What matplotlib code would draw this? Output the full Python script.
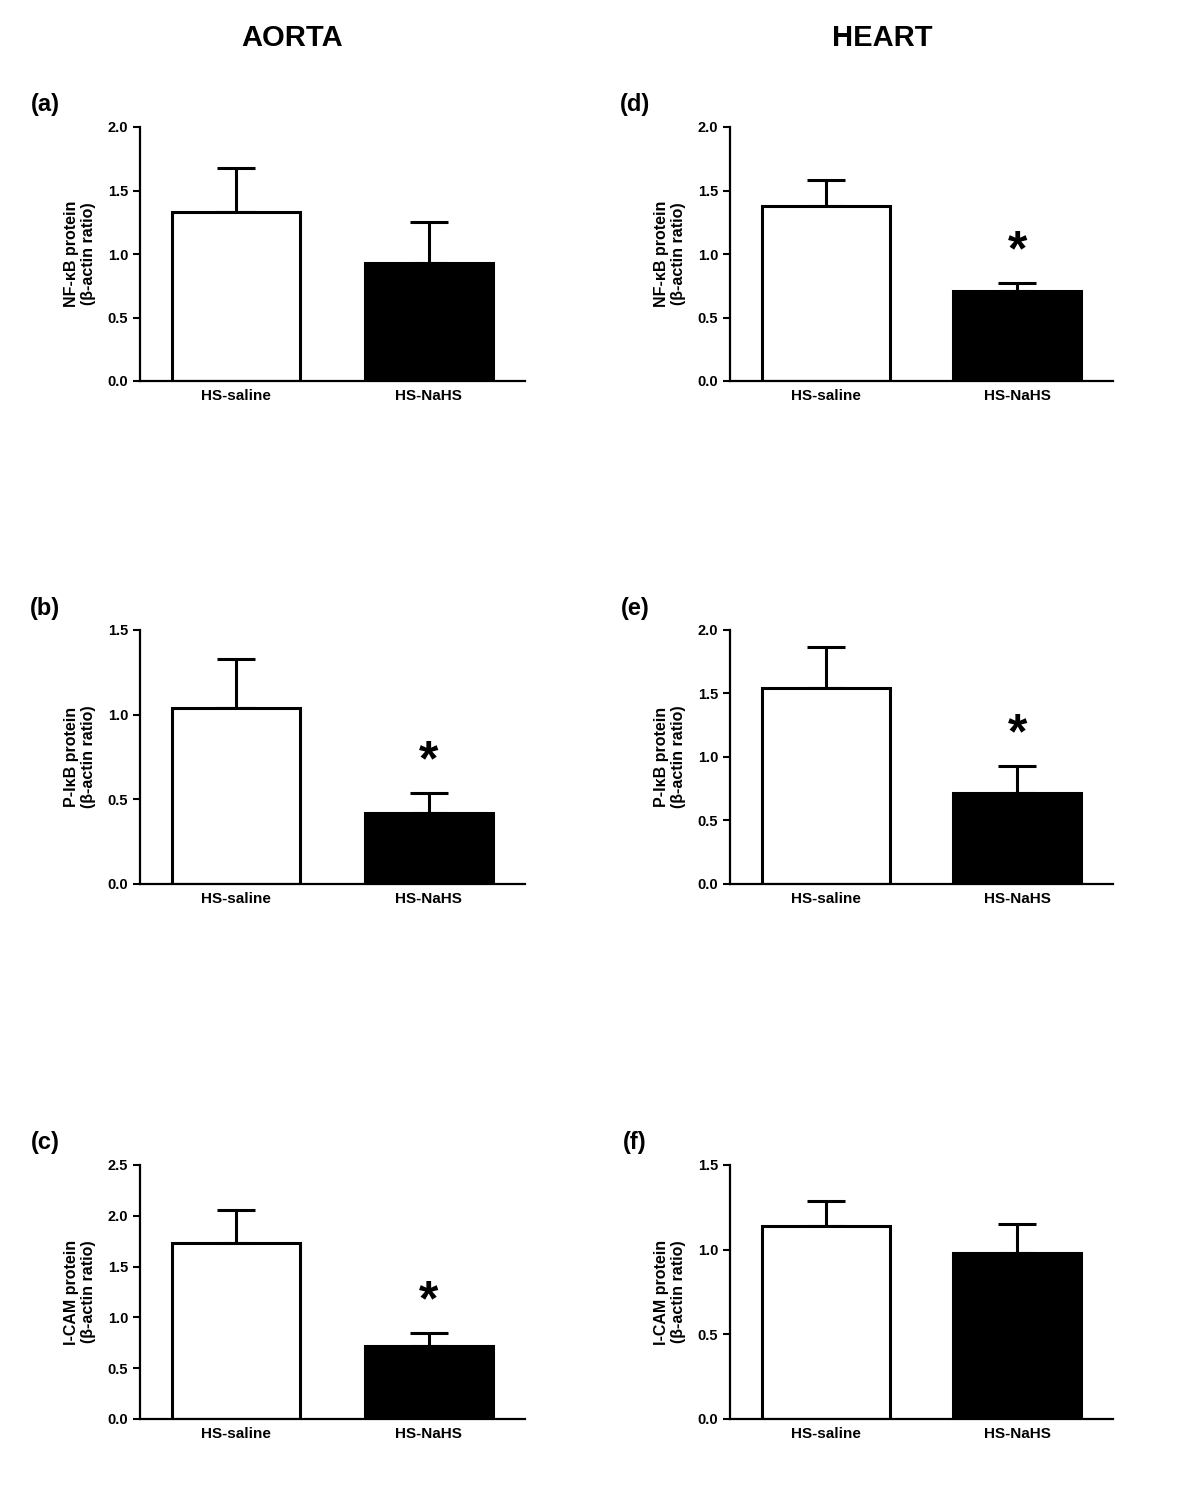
import matplotlib
matplotlib.use("Agg")
import matplotlib.pyplot as plt

W, H = 1200, 1492
groups = ["HS-saline", "HS-NaHS"]

# (letter, ylabel protein name, means, upper error tops, ymax, yticks, significant)
panels = {
    "a": ("NF-\u03baB", [1.33, 0.93], [1.68, 1.25], 2.0, [0, 0.5, 1.0, 1.5, 2.0], False),
    "b": ("P-I\u03baB", [1.04, 0.42], [1.33, 0.54], 1.5, [0, 0.5, 1.0, 1.5], True),
    "c": ("I-CAM", [1.73, 0.72], [2.06, 0.85], 2.5, [0, 0.5, 1.0, 1.5, 2.0, 2.5], True),
    "d": ("NF-\u03baB", [1.38, 0.71], [1.58, 0.77], 2.0, [0, 0.5, 1.0, 1.5, 2.0], True),
    "e": ("P-I\u03baB", [1.54, 0.72], [1.87, 0.93], 2.0, [0, 0.5, 1.0, 1.5, 2.0], True),
    "f": ("I-CAM", [1.14, 0.98], [1.29, 1.15], 1.5, [0, 0.5, 1.0, 1.5], False),
}

# pixel boxes: left, top, right, bottom
boxes = {
    "a": (140, 127, 525, 381), "d": (730, 127, 1113, 381),
    "b": (140, 630, 525, 884), "e": (730, 630, 1113, 884),
    "c": (140, 1165, 525, 1419), "f": (730, 1165, 1113, 1419),
}

plt.rcParams["font.family"] = ["Liberation Sans", "DejaVu Sans"]
fig = plt.figure(figsize=(W / 100, H / 100), dpi=100)

fig.text(292 / W, 1 - 38 / H, "AORTA", ha="center", va="center", fontsize=21, fontweight="bold")
fig.text(882 / W, 1 - 38 / H, "HEART", ha="center", va="center", fontsize=21, fontweight="bold")

for key, (name, means, tops, ymax, yticks, sig) in panels.items():
    l, t, r, b = boxes[key]
    ax = fig.add_axes([l / W, 1 - b / H, (r - l) / W, (b - t) / H])
    xs = [0.75, 2.25]
    errs = [tp - m for tp, m in zip(tops, means)]
    ax.bar(xs, means, width=1.0, color=["white", "black"], edgecolor="black", linewidth=2.2, zorder=2)
    ax.errorbar(xs, means, yerr=[[0, 0], errs], fmt="none", ecolor="black",
                elinewidth=2.2, capsize=14, capthick=2.2, zorder=1)
    if sig:
        ax.text(xs[1], tops[1] + 0.03 * ymax, "*", ha="center", va="bottom",
                fontsize=36, fontweight="bold")
    ax.set_xlim(0, 3)
    ax.set_ylim(0, ymax)
    ax.set_yticks(yticks)
    ax.set_yticklabels([f"{v:.1f}" for v in yticks], fontsize=10.5, fontweight="bold")
    ax.set_xticks(xs)
    ax.set_xticklabels(groups, fontsize=11, fontweight="bold")
    ax.tick_params(axis="x", length=0, pad=6)
    ax.tick_params(axis="y", width=1.5, length=5)
    for s in ["top", "right"]:
        ax.spines[s].set_visible(False)
    for s in ["left", "bottom"]:
        ax.spines[s].set_linewidth(1.6)
    ax.set_ylabel(f"{name} protein\n(\u03b2-actin ratio)", fontsize=11.5, fontweight="bold", labelpad=8)
    fig.text((l - 95) / W, 1 - (t - 22) / H, f"({key})", ha="center", va="center",
             fontsize=17, fontweight="bold")

fig.savefig("out.png", dpi=100)
